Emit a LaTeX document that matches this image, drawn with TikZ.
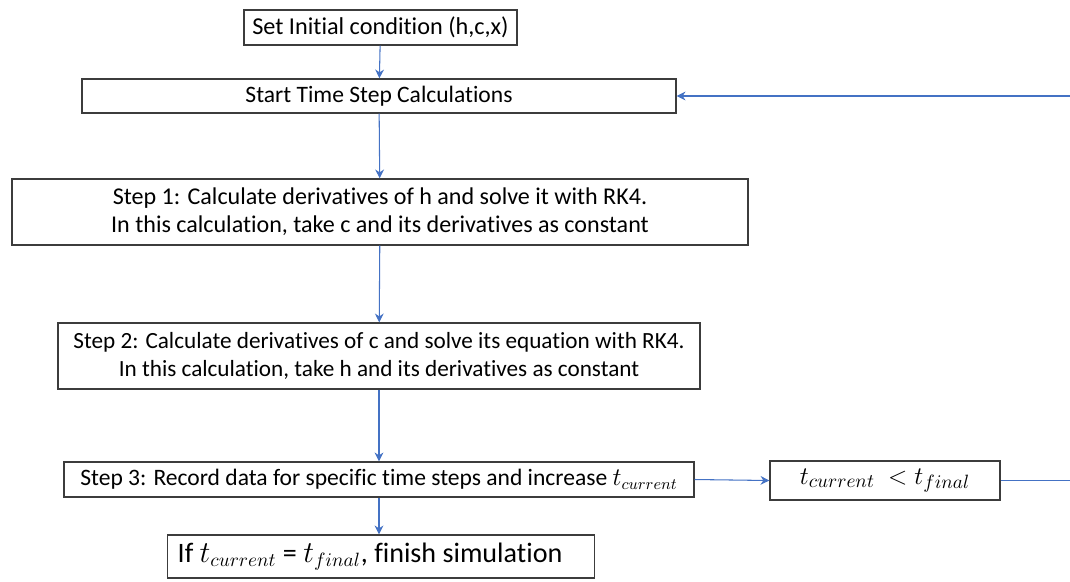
\documentclass[tikz,border=0pt]{standalone}
\usepackage{fontspec}
\setmainfont{Carlito}[Ligatures=NoCommon]
\usetikzlibrary{arrows.meta}
\definecolor{flowblue}{RGB}{68,114,196}
\definecolor{boxgray}{RGB}{60,60,60}

\begin{document}
\begin{tikzpicture}[>={Stealth[length=5pt,width=5pt]},
    box/.style={draw=boxgray,line width=0.8pt,inner sep=0pt,align=center,
                font=\fontsize{13.4}{15.9}\selectfont},
    flow/.style={->,draw=flowblue,line width=0.6pt}]
    \useasboundingbox (0,0) rectangle (21.4,-11.62);

    \node[box,minimum width=5.46cm,minimum height=0.7cm,font=\fontsize{13.8}{15.9}\selectfont] (init) at (7.61,-0.55) {Set Initial condition (h,c,x)};
    \node[box,minimum width=11.88cm,minimum height=0.68cm] (start) at (7.58,-1.92) {Start Time Step Calculations};
    \node[box,minimum width=14.72cm,minimum height=1.32cm,font=\fontsize{13.7}{15.9}\selectfont] (step1) at (7.6,-4.24)
        {Step 1: Calculate derivatives of h and solve it with RK4.\\In this calculation, take c and its derivatives as constant};
    \node[box,minimum width=12.84cm,minimum height=1.32cm,font=\fontsize{13.2}{15.9}\selectfont] (step2) at (7.58,-7.12)
        {Step 2: Calculate derivatives of c and solve its equation with RK4.\\In this calculation, take h and its derivatives as constant};
    \node[box,minimum width=12.6cm,minimum height=0.7cm] (step3) at (7.58,-9.59)
        {Step 3: Record data for specific time steps and increase $t_{current}$};
    \node[box,minimum width=4.6cm,minimum height=0.78cm,font=\fontsize{15.5}{18}\selectfont] (cond) at (17.7,-9.61)
        {$t_{current}\ <t_{final}$};
    \node[box,anchor=west,inner xsep=0.2cm,minimum height=0.86cm,font=\fontsize{16}{19}\selectfont] (finish) at (3.34,-11.13)
        {If $t_{current}$ = $t_{final}$, finish simulation\hspace*{0.44cm}};
    \coordinate (fbR) at (21.4,-9.61);
    \coordinate (fbT) at (21.4,-1.92);

    \draw[flow] (init) -- (start);
    \draw[flow] (start) -- (step1);
    \draw[flow] (step1) -- (step2);
    \draw[flow] (step2) -- (step3);
    \draw[flow] (step3) -- (step3 |- finish.north);
    \draw[flow] (step3.east) -- (cond.west);
    \draw[flow,-] (cond.east) -- (fbR);
    \draw[flow] (fbT) -- (start.east);
\end{tikzpicture}
\end{document}
